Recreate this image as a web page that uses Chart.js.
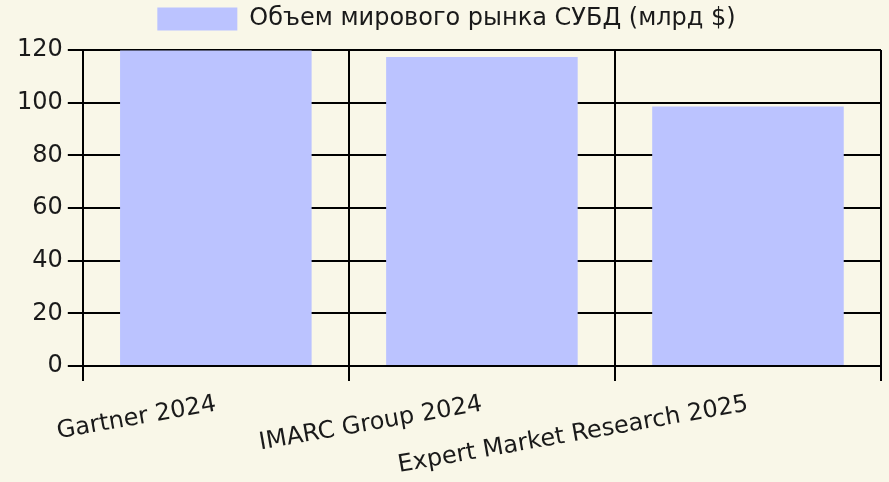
<!DOCTYPE html>
<html lang="ru">
<head>
    <meta charset="UTF-8">
    <title>Объем мирового рынка СУБД</title>
    <script src="https://cdn.jsdelivr.net/npm/chart.js"></script>
    <style>
        body, html {
            margin: 0;
            padding: 0;
            background-color: #f9f7e8;
        }
        #wrap {
            width: 889px;
            height: 482px;
        }
    </style>
</head>
<body>
    <div id="wrap"><canvas id="chart"></canvas></div>

    <script>
        // Data
        const categories = ['Gartner 2024', 'IMARC Group 2024', 'Expert Market Research 2025'];
        const marketSize = [119.8, 117.3, 98.5];
        const seriesLabel = 'Объем мирового рынка СУБД (млрд $)';

        Chart.defaults.font.family = 'DejaVu Sans, sans-serif';
        Chart.defaults.font.size = 24;
        Chart.defaults.color = '#1a1a1a';

        // extra space under the legend
        const legendGap = {
            id: 'legendGap',
            beforeInit(chart) {
                const fit = chart.legend.fit;
                chart.legend.fit = function () {
                    fit.bind(chart.legend)();
                    this.height += 9;
                };
            }
        };

        new Chart(document.getElementById('chart'), {
            type: 'bar',
            data: {
                labels: categories,
                datasets: [{
                    label: seriesLabel,
                    data: marketSize,
                    backgroundColor: '#bbc3ff',
                    borderWidth: 0,
                    barPercentage: 0.72,
                    categoryPercentage: 1
                }]
            },
            plugins: [legendGap],
            options: {
                responsive: true,
                maintainAspectRatio: false,
                animation: false,
                layout: { padding: { left: 12, right: 8, top: 0, bottom: 0 } },
                plugins: {
                    tooltip: { enabled: false },
                    legend: {
                        labels: {
                            boxWidth: 80,
                            boxHeight: 23,
                            padding: 7
                        }
                    }
                },
                scales: {
                    x: {
                        afterFit(scale) {
                            // rotated labels reserve a bit too much room
                            scale.height -= 7;
                        },
                        grid: {
                            color: '#000',
                            lineWidth: 2,
                            tickLength: 15,
                            offset: true
                        },
                        border: { color: '#000', width: 2 },
                        ticks: {
                            minRotation: 10,
                            maxRotation: 10,
                            padding: 9
                        }
                    },
                    y: {
                        min: 0,
                        max: 120,
                        grid: {
                            color: '#000',
                            lineWidth: 2,
                            tickLength: 15
                        },
                        border: { color: '#000', width: 2 },
                        ticks: {
                            stepSize: 20,
                            padding: 5
                        }
                    }
                }
            }
        });
    </script>
</body>
</html>
